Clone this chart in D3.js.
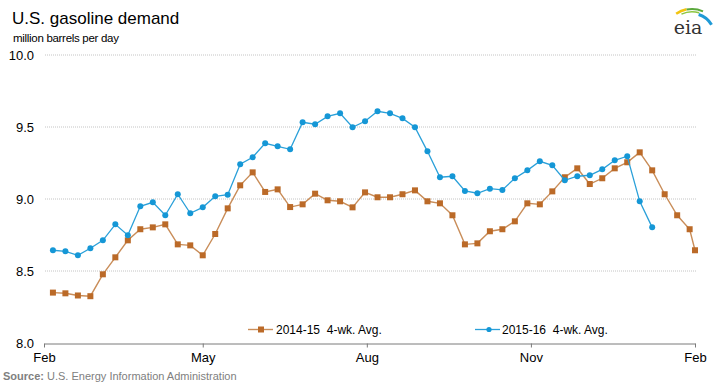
<!DOCTYPE html>
<html>
<head>
<meta charset="utf-8">
<script src="https://cdn.jsdelivr.net/npm/d3@7"></script>
<style>
  body { margin: 0; background: #fff; }
  svg { display: block; font-family: "Liberation Sans", Arial, sans-serif; }
</style>
</head>
<body>
<svg id="chart" width="719" height="386"></svg>
<script>
// ---- data ----
const title = "U.S. gasoline demand";
const subtitle = "million barrels per day";
const sourceLabel = "Source:";
const sourceText = " U.S. Energy Information Administration";
const yTicks = [8.0, 8.5, 9.0, 9.5, 10.0];
const xTickDates = ["2015-02-01", "2015-05-01", "2015-08-01", "2015-11-01", "2016-02-01"];
const seriesNames = ["2014-15  4-wk. Avg.", "2015-16  4-wk. Avg."];

// week-ending dates (on a generic Feb-to-Feb year)
const weekDates = [
  "2015-02-06","2015-02-13","2015-02-20","2015-02-27","2015-03-06","2015-03-13","2015-03-20","2015-03-27",
  "2015-04-03","2015-04-10","2015-04-17","2015-04-24","2015-05-01","2015-05-08","2015-05-15","2015-05-22",
  "2015-05-29","2015-06-05","2015-06-12","2015-06-19","2015-06-26","2015-07-03","2015-07-10","2015-07-17",
  "2015-07-24","2015-07-31","2015-08-07","2015-08-14","2015-08-21","2015-08-28","2015-09-04","2015-09-11",
  "2015-09-18","2015-09-25","2015-10-02","2015-10-09","2015-10-16","2015-10-23","2015-10-30","2015-11-06",
  "2015-11-13","2015-11-20","2015-11-27","2015-12-04","2015-12-11","2015-12-18","2015-12-25","2016-01-01",
  "2016-01-08","2016-01-15","2016-01-22","2016-01-29","2016-02-01"
];

const values2014 = [
  8.35, 8.345, 8.33, 8.325, 8.477, 8.595, 8.713, 8.79, 8.803, 8.824,
  8.685, 8.678, 8.609, 8.757, 8.935, 9.095, 9.185, 9.049, 9.067, 8.944,
  8.963, 9.037, 8.991, 8.984, 8.942, 9.046, 9.012, 9.012, 9.033, 9.06,
  8.984, 8.97, 8.887, 8.685, 8.692, 8.776, 8.79, 8.845, 8.97, 8.963,
  9.053, 9.151, 9.213, 9.104, 9.144, 9.213, 9.255, 9.324, 9.199, 9.033,
  8.887, 8.79, 8.644
];

const values2015 = [
  8.644, 8.637, 8.609, 8.658, 8.713, 8.824, 8.748, 8.949, 8.977, 8.887,
  9.033, 8.901, 8.942, 9.019, 9.03, 9.241, 9.29, 9.387, 9.366, 9.345,
  9.533, 9.519, 9.574, 9.595, 9.498, 9.54, 9.609, 9.595, 9.56, 9.498,
  9.331, 9.151, 9.158, 9.056, 9.04, 9.072, 9.063, 9.144, 9.199, 9.262,
  9.234, 9.13, 9.158, 9.165, 9.206, 9.269, 9.297, 8.984, 8.803
];

// ---- layout ----
const orangeMarker = "#bb6a28", orangeLine = "#c98d59";
const blueMarker = "#1597d6", blueLine = "#2aa0d9";
const parse = d3.timeParse("%Y-%m-%d");
const svg = d3.select("#chart");

const x = d3.scaleTime()
  .domain([parse("2015-02-01"), parse("2016-02-01")])
  .range([44, 695]);
const y = d3.scaleLinear().domain([8, 10]).range([343, 55]);

// titles
svg.append("text").attr("x", 12).attr("y", 24)
  .attr("font-size", 17).attr("fill", "#000").text(title);
svg.append("text").attr("x", 13).attr("y", 42)
  .attr("font-size", 11.5).attr("letter-spacing", -0.3).attr("fill", "#000").text(subtitle);

// gridlines
svg.append("g").selectAll("line")
  .data(yTicks.filter(d => d > 8))
  .join("line")
  .attr("x1", 45).attr("x2", 696)
  .attr("y1", d => y(d)).attr("y2", d => y(d))
  .attr("stroke", "#c4c4c4").attr("stroke-width", 1)
  .attr("stroke-dasharray", "1,1");

// y axis labels
const yAxis = svg.append("g").attr("transform", "translate(44,0)")
  .call(d3.axisLeft(y).tickValues(yTicks).tickFormat(d3.format(".1f")).tickSize(0).tickPadding(10));
yAxis.select(".domain").remove();
yAxis.selectAll("text").attr("font-size", 13).attr("fill", "#000")
  .attr("font-family", "'Liberation Sans', Arial, sans-serif");

// x axis
const xAxis = svg.append("g").attr("transform", "translate(0,343.5)")
  .call(d3.axisBottom(x).tickValues(xTickDates.map(parse)).tickFormat(d3.timeFormat("%b"))
    .tickSizeInner(4).tickSizeOuter(0).tickPadding(5));
xAxis.select(".domain").attr("stroke", "#7a7a7a");
xAxis.selectAll(".tick line").attr("stroke", "#7a7a7a");
xAxis.selectAll("text").attr("font-size", 13).attr("fill", "#000")
  .attr("font-family", "'Liberation Sans', Arial, sans-serif");

// series
const s1 = values2014.map((v, i) => ({ date: parse(weekDates[i]), value: v }));
const s2 = values2015.map((v, i) => ({ date: parse(weekDates[i]), value: v }));
const line = d3.line().x(d => x(d.date)).y(d => y(d.value));

svg.append("path").datum(s1).attr("d", line)
  .attr("fill", "none").attr("stroke", orangeLine).attr("stroke-width", 1.4);
svg.append("g").selectAll("rect").data(s1).join("rect")
  .attr("x", d => x(d.date) - 3).attr("y", d => y(d.value) - 3)
  .attr("width", 6).attr("height", 6).attr("fill", orangeMarker);

svg.append("path").datum(s2).attr("d", line)
  .attr("fill", "none").attr("stroke", blueLine).attr("stroke-width", 1.3);
svg.append("g").selectAll("circle").data(s2).join("circle")
  .attr("cx", d => x(d.date)).attr("cy", d => y(d.value))
  .attr("r", 3).attr("fill", blueMarker);

// legend
const leg = svg.append("g").attr("font-size", 12);
const l1 = leg.append("g").attr("transform", "translate(248,329.5)");
l1.append("line").attr("x1", 0).attr("x2", 25).attr("stroke", orangeLine).attr("stroke-width", 1.4);
l1.append("rect").attr("x", 10).attr("y", -3).attr("width", 6).attr("height", 6).attr("fill", orangeMarker);
l1.append("text").attr("x", 28).attr("y", 4.5).attr("fill", "#000")
  .style("white-space", "pre").text(seriesNames[0]);
const l2 = leg.append("g").attr("transform", "translate(475,329.5)");
l2.append("line").attr("x1", 0).attr("x2", 25).attr("stroke", blueLine).attr("stroke-width", 1.3);
l2.append("circle").attr("cx", 14).attr("cy", 0).attr("r", 2.6).attr("fill", blueMarker);
l2.append("text").attr("x", 27).attr("y", 4.5).attr("fill", "#000")
  .style("white-space", "pre").text(seriesNames[1]);

// source
const src = svg.append("text").attr("x", 3).attr("y", 380).attr("font-size", 11).attr("fill", "#808080");
src.append("tspan").attr("font-weight", "bold").text(sourceLabel);
src.append("tspan").text(sourceText);

// eia logo
const logo = svg.append("g");
const arc = d3.arc();
const arcs = [
  { r0: 26, r1: 28.5, a0: -0.62, a1: -0.2, c: "#f2c40f" },
  { r0: 26, r1: 28, a0: -0.2, a1: 0.42, c: "#5aa83c" },
  { r0: 23.5, r1: 25, a0: -0.45, a1: 0.3, c: "#8cc63f" },
  { r0: 21, r1: 24, a0: 0.3, a1: 1.05, c: "#1f9ad6" }
];
logo.selectAll("path").data(arcs).join("path")
  .attr("d", d => arc({ innerRadius: d.r0, outerRadius: d.r1, startAngle: d.a0, endAngle: d.a1 }))
  .attr("fill", d => d.c).attr("transform", "translate(692,36)");
logo.append("text").attr("x", 688).attr("y", 34).attr("text-anchor", "middle")
  .attr("font-family", "'DejaVu Serif', 'Liberation Serif', serif").attr("font-size", 19)
  .attr("fill", "#333").text("eia");
</script>
</body>
</html>
